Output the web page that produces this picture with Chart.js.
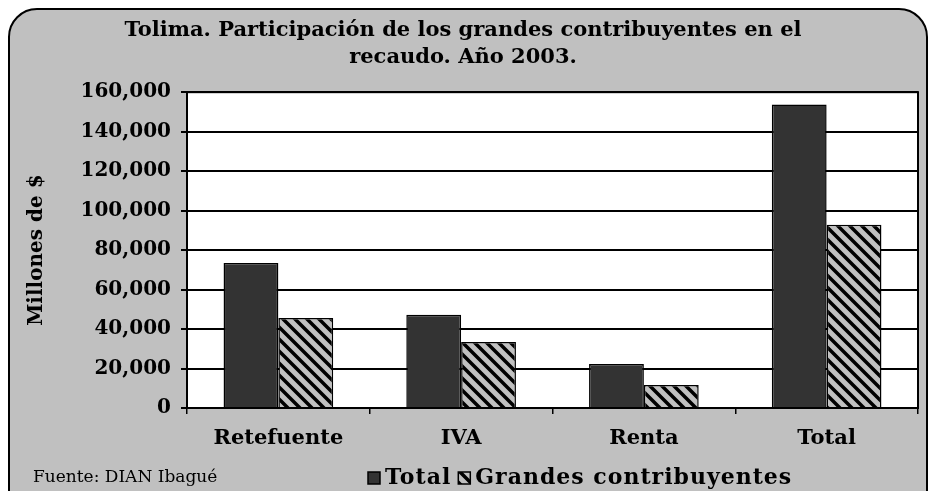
<!DOCTYPE html>
<html>
<head>
<meta charset="utf-8">
<script src="https://cdn.jsdelivr.net/npm/chart.js@4"></script>
<style>
	html, body { margin: 0; padding: 0; background: #fff; }
	#wrap { width: 935px; height: 491px; }
</style>
</head>
<body>
<div id="wrap"><canvas id="chart" width="935" height="491"></canvas></div>
<script>
const categories = ['Retefuente', 'IVA', 'Renta', 'Total'];
const totalValues = [73500, 47200, 22300, 153700];
const grandesValues = [45600, 33500, 11700, 92800];
const seriesNames = ['Total', 'Grandes contribuyentes'];
const titleLines = ['Tolima. Participación de los grandes contribuyentes en el', 'recaudo. Año 2003.'];
const sourceText = 'Fuente: DIAN Ibagué';

const serif = '"DejaVu Serif", "Liberation Serif", serif';

function makeHatch() {
	const size = 12,
		c = document.createElement('canvas');
	c.width = size;
	c.height = size;
	const g = c.getContext('2d');
	g.fillStyle = '#c0c0c0';
	g.fillRect(0, 0, size, size);
	g.strokeStyle = '#000';
	g.lineWidth = 3.5;
	g.beginPath();
	// "\" direction stripes, tiled
	for (let k = -1; k <= 1; k++) {
		g.moveTo(k * size - 2, -2);
		g.lineTo(k * size + size + 2, size + 2);
	}
	g.stroke();
	return g.createPattern(c, 'repeat');
}

const hatch = makeHatch();

const frame = {
	id: 'frame',
	beforeDraw(chart) {
		const ctx = chart.ctx,
			a = chart.chartArea;
		ctx.save();
		ctx.fillStyle = '#fff';
		ctx.fillRect(0, 0, chart.width, chart.height);
		ctx.beginPath();
		ctx.roundRect(9, 9, 918, 510, 28);
		ctx.fillStyle = '#c0c0c0';
		ctx.fill();
		ctx.lineWidth = 2;
		ctx.strokeStyle = '#000';
		ctx.stroke();
		ctx.fillStyle = '#fff';
		ctx.fillRect(a.left, a.top, a.right - a.left, a.bottom - a.top);
		ctx.restore();
	},
	afterDraw(chart) {
		const ctx = chart.ctx,
			a = chart.chartArea;
		ctx.save();
		ctx.strokeStyle = '#000';
		ctx.lineWidth = 2;
		ctx.strokeRect(a.left, a.top, a.right - a.left, a.bottom - a.top);

		// source note
		ctx.fillStyle = '#000';
		ctx.textBaseline = 'middle';
		ctx.font = '17px ' + serif;
		ctx.fillText(sourceText, 33, 478);

		// legend
		let x = 368;
		const y = 478;
		chart.data.datasets.forEach((ds, i) => {
			ctx.letterSpacing = '0px';
			ctx.fillStyle = ds.backgroundColor;
			ctx.fillRect(x, y - 6, 12, 12);
			ctx.lineWidth = 1.5;
			ctx.strokeRect(x, y - 6, 12, 12);
			x += 17;
			ctx.fillStyle = '#000';
			ctx.font = 'bold 22px ' + serif;
			ctx.letterSpacing = '1px';
			ctx.fillText(ds.label, x, y);
			x += ctx.measureText(ds.label).width + 7;
		});
		ctx.restore();
	}
};

new Chart(document.getElementById('chart'), {
	type: 'bar',
	data: {
		labels: categories,
		datasets: [{
			label: seriesNames[0],
			data: totalValues,
			backgroundColor: '#333333',
			borderColor: '#000',
			borderWidth: 1.5
		}, {
			label: seriesNames[1],
			data: grandesValues,
			backgroundColor: hatch,
			borderColor: '#000',
			borderWidth: 1.5
		}]
	},
	options: {
		responsive: false,
		animation: false,
		layout: {
			padding: { left: 8, right: 17, top: 8, bottom: 33 }
		},
		datasets: {
			bar: { categoryPercentage: 0.6, barPercentage: 1 }
		},
		plugins: {
			legend: { display: false },
			tooltip: { enabled: false },
			title: {
				display: true,
				text: titleLines,
				color: '#000',
				font: { family: serif, size: 21, weight: 'bold', lineHeight: 1.29 },
				padding: { top: 9, bottom: 21 }
			}
		},
		scales: {
			x: {
				afterFit: s => { s.height = 50; },
				grid: {
					display: true,
					drawOnChartArea: false,
					drawTicks: true,
					tickLength: 6,
					color: '#000',
					lineWidth: 1.5
				},
				border: { display: true, color: '#000', width: 2 },
				ticks: {
					color: '#000',
					padding: 12,
					font: { family: serif, size: 21, weight: 'bold' }
				}
			},
			y: {
				min: 0,
				max: 160000,
				afterFit: s => { s.width = 179; },
				grid: {
					color: '#000',
					lineWidth: 2,
					drawTicks: true,
					tickLength: 6
				},
				border: { display: true, color: '#000', width: 2 },
				ticks: {
					stepSize: 20000,
					color: '#000',
					padding: 10,
					font: { family: serif, size: 20, weight: 'bold' },
					callback: v => v.toLocaleString('en-US')
				},
				title: {
					display: true,
					text: 'Millones de $',
					color: '#000',
					font: { family: serif, size: 20, weight: 'bold' },
					padding: { top: 17, bottom: 0 }
				}
			}
		}
	},
	plugins: [frame]
});
</script>
</body>
</html>
